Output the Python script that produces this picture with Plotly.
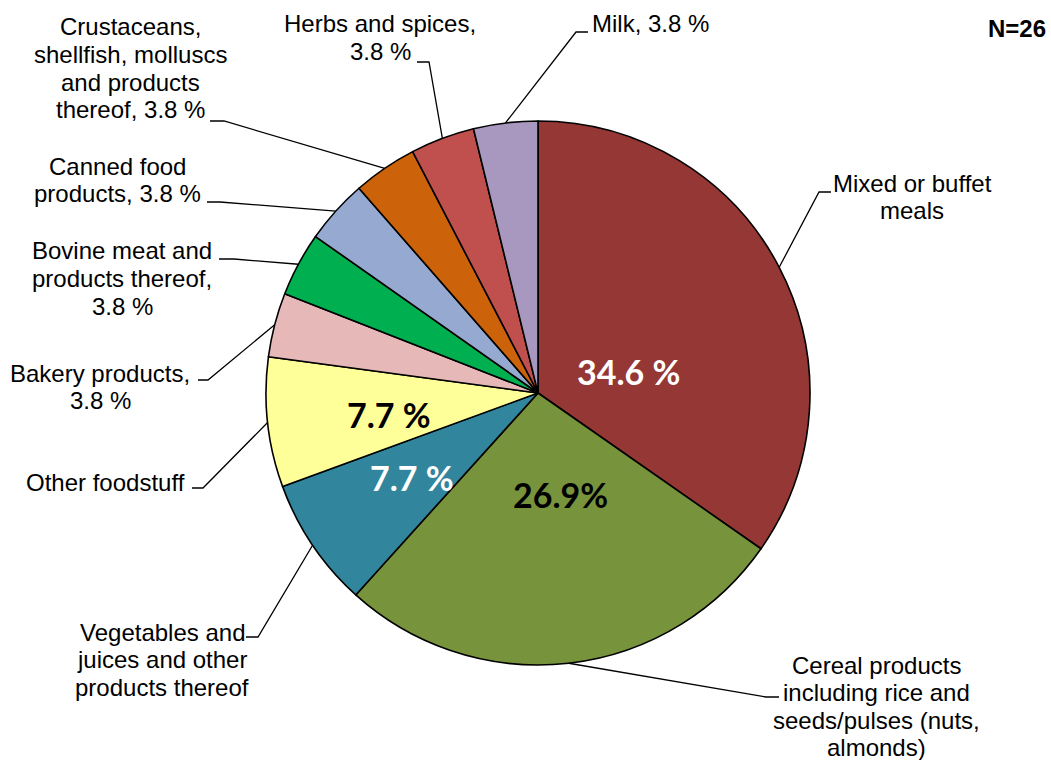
import math
import plotly.graph_objects as go

# Foodstuff categories and their share of outbreaks (%), N=26
categories = [
    "Mixed or buffet meals",
    "Cereal products including rice and seeds/pulses (nuts, almonds)",
    "Vegetables and juices and other products thereof",
    "Other foodstuff",
    "Bakery products",
    "Bovine meat and products thereof",
    "Canned food products",
    "Crustaceans, shellfish, molluscs and products thereof",
    "Herbs and spices",
    "Milk",
]
shares = [34.6, 26.9, 7.7, 7.7, 3.8, 3.8, 3.8, 3.8, 3.8, 3.8]
n_total = 26

colors = ["#953735", "#77933C", "#31859C", "#FFFF99", "#E6B9B8",
          "#00B050", "#95A9D1", "#CC6209", "#C0504D", "#A898BF"]

# Outside label text, one entry per line ({p} is filled with the slice share)
outside_lines = [
    ["Mixed or buffet", "meals"],
    ["Cereal products", "including rice and", "seeds/pulses (nuts,", "almonds)"],
    ["Vegetables and", "juices and other", "products thereof"],
    ["Other foodstuff"],
    ["Bakery products,", "{p} %"],
    ["Bovine meat and", "products thereof,", "{p} %"],
    ["Canned food", "products, {p} %"],
    ["Crustaceans,", "shellfish, molluscs", "and products", "thereof, {p} %"],
    ["Herbs and spices,", "{p} %"],
    ["Milk, {p} %"],
]

# Big value labels drawn inside the four largest slices
inside_idx = [0, 1, 2, 3]
inside_sep = [" ", "", " ", " "]
inside_color = ["white", "black", "white", "black"]

# ---- layout (pixels) ----
W, H = 1051, 760
CX, CY, R = 538, 393, 272
LINE_H = 27.5
LABEL_FONT = dict(family="Liberation Sans, Arial", size=24, color="black")

# label centre x and first-line y, leader elbows and tick ends
label_pos = [(912, 183), (876, 665), (162, 632), (105, 482), (100, 373),
             (122, 251), (117, 166), (130, 27), (380, 24), (650, 23)]
elbows = [(819, 192), (766, 697), (258, 637), (203, 488), (208, 380),
          (234, 259), (220, 202), (224, 121), (429, 62), (576, 32)]
tick_ends = [(831, 192), (779, 697), (246, 637), (192, 488), (198, 380),
             (219, 259), (207, 202), (210, 121), (417, 62), (588, 32)]
inside_pos = [(628, 371), (560, 494), (412, 477), (389, 414)]


def px(x, y):
    return x / W, 1 - y / H


fig = go.Figure(go.Pie(
    labels=categories,
    values=shares,
    sort=False,
    direction="clockwise",
    rotation=0,
    marker=dict(colors=colors, line=dict(color="black", width=1.6)),
    textinfo="none",
    hoverinfo="label+percent",
    showlegend=False,
    domain=dict(x=[(CX - R) / W, (CX + R) / W],
                y=[1 - (CY + R) / H, 1 - (CY - R) / H]),
))

total = sum(shares)
shapes = []
annotations = []
cum = 0.0
for i, v in enumerate(shares):
    # leader line from the slice's mid-arc point to its label
    theta = 2 * math.pi * (cum + v / 2) / total
    cum += v
    ex, ey = CX + R * math.sin(theta), CY - R * math.cos(theta)
    pts = [px(ex, ey), px(*elbows[i]), px(*tick_ends[i])]
    path = "M {} {} L {} {} L {} {}".format(*[c for p in pts for c in p])
    shapes.append(dict(type="path", xref="paper", yref="paper", path=path,
                       line=dict(color="black", width=1.3)))
    cx, y0 = label_pos[i]
    for j, line in enumerate(outside_lines[i]):
        lx, ly = px(cx, y0 + j * LINE_H)
        annotations.append(dict(
            x=lx, y=ly, xref="paper", yref="paper", xanchor="center",
            yanchor="middle", showarrow=False,
            text=line.format(p=v), font=LABEL_FONT,
        ))

for k, i in enumerate(inside_idx):
    lx, ly = px(*inside_pos[k])
    annotations.append(dict(
        x=lx, y=ly, xref="paper", yref="paper", xanchor="center",
        yanchor="middle", showarrow=False,
        text="<b>{}{}%</b>".format(shares[i], inside_sep[k]),
        font=dict(family="Lato, Open Sans", size=34, color=inside_color[k]),
    ))

nx, ny = px(1048, 28)
annotations.append(dict(
    x=nx, y=ny, xref="paper", yref="paper",
    xanchor="right", yanchor="middle", showarrow=False,
    text="<b>N={}</b>".format(n_total),
    font=dict(family="Liberation Sans, Arial", size=24, color="black"),
))

fig.update_layout(
    width=W, height=H,
    margin=dict(l=0, r=0, t=0, b=0),
    paper_bgcolor="white", plot_bgcolor="white",
    shapes=shapes, annotations=annotations,
)

fig.write_html("out.html")
